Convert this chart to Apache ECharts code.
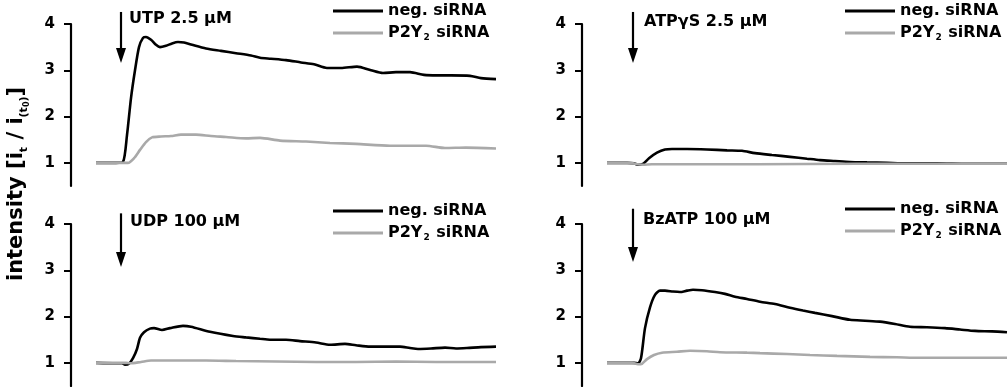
<!DOCTYPE html>
<html>
<head>
<meta charset="utf-8">
<script src="https://cdn.jsdelivr.net/npm/echarts@6/dist/echarts.min.js"></script>
<style>
  html, body { margin: 0; padding: 0; background: #fff; }
  #chart { width: 1008px; height: 387px; }
</style>
</head>
<body>
<div id="chart"></div>
<script>
// Calcium response traces, [time (s), normalised intensity]
const utpNeg = [[0,1.0],[10,1.0],[20,1.0],[27,1.02],[31,1.6],[35,2.4],[39,3.0],[43,3.5],[47,3.7],[50,3.72],[55,3.66],[60,3.55],[64,3.5],[70,3.53],[76,3.58],[82,3.61],[88,3.6],[96,3.55],[110,3.47],[125,3.42],[140,3.37],[155,3.32],[164,3.27],[175,3.25],[190,3.22],[205,3.17],[218,3.13],[231,3.05],[245,3.05],[261,3.08],[275,3.0],[287,2.94],[300,2.96],[314,2.96],[328,2.9],[341,2.89],[355,2.89],[374,2.88],[385,2.83],[400,2.81]];
const utpP2y2 = [[0,1.0],[20,1.0],[32,1.0],[38,1.1],[44,1.28],[50,1.45],[56,1.55],[65,1.57],[75,1.58],[85,1.61],[100,1.61],[115,1.58],[130,1.56],[150,1.53],[164,1.54],[184,1.48],[210,1.46],[234,1.43],[260,1.41],[294,1.37],[330,1.37],[349,1.32],[370,1.33],[400,1.31]];

const atpNeg = [[0,1.0],[20,1.0],[27,0.99],[31,0.96],[36,0.98],[42,1.1],[50,1.22],[58,1.29],[65,1.3],[80,1.3],[100,1.29],[120,1.27],[135,1.26],[148,1.21],[165,1.17],[183,1.13],[200,1.09],[213,1.06],[228,1.04],[243,1.02],[260,1.01],[280,1.0],[300,0.99],[330,0.99],[360,0.98],[400,0.98]];
const atpP2y2 = [[0,1.0],[20,1.0],[26,0.99],[30,0.97],[36,0.96],[45,0.97],[80,0.97],[150,0.97],[250,0.98],[330,0.98],[400,0.98]];

const udpNeg = [[0,1.0],[20,0.99],[26,0.99],[29,0.96],[33,0.98],[37,1.1],[41,1.3],[44,1.54],[48,1.66],[54,1.74],[58,1.75],[66,1.71],[74,1.75],[87,1.8],[95,1.78],[114,1.67],[137,1.58],[150,1.55],[164,1.52],[174,1.5],[190,1.5],[204,1.47],[220,1.44],[234,1.39],[249,1.41],[260,1.38],[274,1.35],[290,1.35],[304,1.35],[314,1.32],[322,1.3],[335,1.31],[349,1.33],[360,1.31],[371,1.32],[385,1.34],[400,1.35]];
const udpP2y2 = [[0,1.0],[30,1.0],[34,0.99],[45,1.02],[55,1.05],[80,1.05],[110,1.05],[140,1.04],[180,1.03],[220,1.02],[260,1.02],[300,1.03],[340,1.02],[400,1.02]];

const bzatpNeg = [[0,1.0],[20,1.0],[27,1.0],[31,0.99],[34,1.1],[38,1.75],[43,2.2],[48,2.47],[53,2.56],[58,2.56],[66,2.54],[73,2.53],[80,2.56],[86,2.58],[95,2.57],[108,2.53],[118,2.49],[128,2.43],[140,2.38],[153,2.32],[168,2.27],[183,2.19],[196,2.13],[208,2.08],[225,2.01],[243,1.93],[258,1.91],[273,1.89],[288,1.84],[303,1.78],[320,1.77],[338,1.75],[353,1.72],[368,1.69],[385,1.68],[400,1.66]];
const bzatpP2y2 = [[0,1.0],[25,1.0],[31,0.97],[35,0.98],[40,1.08],[47,1.17],[55,1.22],[70,1.24],[83,1.26],[100,1.25],[113,1.23],[140,1.22],[153,1.21],[180,1.19],[203,1.17],[230,1.15],[263,1.13],[290,1.12],[313,1.11],[350,1.11],[400,1.11]];

// Agonist labels and addition time / arrow extent (intensity units)
const agonists = ['UTP 2.5 μM', 'ATPγS 2.5 μM', 'UDP 100 μM', 'BzATP 100 μM'];
const additionTime = [25, 26, 25, 26];
const arrowTop = [4.26, 4.26, 4.23, 4.33];
const arrowTip = [3.16, 3.16, 3.07, 3.18];

const yTicks = [1, 2, 3, 4];
const seriesNames = ['neg. siRNA', 'P2Y2 siRNA'];
const traces = [[utpNeg, utpP2y2], [atpNeg, atpP2y2], [udpNeg, udpP2y2], [bzatpNeg, bzatpP2y2]];

const FONT = 'DejaVu Sans';
const panels = [
  { left: 96,  top: 24,  legendLeft: 328, legendTop: -2,  labelDx: 8,  labelDy: 7 },
  { left: 607, top: 24,  legendLeft: 840, legendTop: -2,  labelDx: 11, labelDy: 10 },
  { left: 96,  top: 224, legendLeft: 328, legendTop: 198, labelDx: 9,  labelDy: 8 },
  { left: 607, top: 224, legendLeft: 840, legendTop: 196, labelDx: 10, labelDy: 11 }
];
const colors = ['#000000', '#a9a9a9'];

const chart = echarts.init(document.getElementById('chart'), null, { renderer: 'canvas' });

const option = {
  animation: false,
  backgroundColor: '#fff',
  grid: panels.map(p => ({ left: p.left, top: p.top, width: 400, height: 162 })),
  xAxis: panels.map((p, i) => ({ type: 'value', gridIndex: i, min: 0, max: 400, show: false })),
  yAxis: panels.map((p, i) => ({
    type: 'value', gridIndex: i, min: 0.5, max: 4, offset: 25,
    axisLine: { show: true, onZero: false, lineStyle: { color: '#000', width: 2.2 } },
    axisTick: { show: true, length: 7, lineStyle: { color: '#000', width: 2 }, customValues: yTicks },
    axisLabel: { customValues: yTicks, margin: 16, color: '#000', fontFamily: FONT, fontWeight: 'bold', fontSize: 15 },
    splitLine: { show: false }
  })),
  legend: panels.map(p => ({
    orient: 'vertical', left: p.legendLeft, top: p.legendTop,
    icon: 'rect', itemWidth: 50, itemHeight: 3, itemGap: 5,
    selectedMode: false,
    data: seriesNames,
    formatter: name => name === 'P2Y2 siRNA' ? '{n|P2Y}{sub|2}{n| siRNA}' : '{n|' + name + '}',
    textStyle: {
      rich: {
        n: { fontFamily: FONT, fontWeight: 'bold', fontSize: 16, color: '#000', lineHeight: 16 },
        sub: { fontFamily: FONT, fontWeight: 'bold', fontSize: 9, color: '#000', lineHeight: 16, padding: [9, 1, 0, 1] }
      }
    }
  })),
  series: []
};

traces.forEach((pair, i) => {
  pair.forEach((data, k) => {
    option.series.push({
      name: seriesNames[k], type: 'line', xAxisIndex: i, yAxisIndex: i,
      data: data, smooth: 0.25, showSymbol: false, z: 2 + k,
      lineStyle: { color: colors[k], width: 2.6 }, itemStyle: { color: colors[k] }
    });
  });
});

chart.setOption(option);

// Yaxis title and agonist addition arrows
const graphics = [{
  type: 'text', x: 17, y: 184, rotation: Math.PI / 2,
  style: {
    text: '{m|intensity [i}{s|t}{m| / i}{s|(t}{ss|0}{s|)}{m|]}',
    align: 'center', verticalAlign: 'middle',
    rich: {
      m: { fontFamily: FONT, fontWeight: 'bold', fontSize: 21, fill: '#000', lineHeight: 24 },
      s: { fontFamily: FONT, fontWeight: 'bold', fontSize: 11, fill: '#000', lineHeight: 24, padding: [14, 0, 0, 0] },
      ss: { fontFamily: FONT, fontWeight: 'bold', fontSize: 8, fill: '#000', lineHeight: 24, padding: [19, 0, 0, 0] }
    }
  }
}];

panels.forEach((p, i) => {
  const top = chart.convertToPixel({ gridIndex: i }, [additionTime[i], arrowTop[i]]);
  const tip = chart.convertToPixel({ gridIndex: i }, [additionTime[i], arrowTip[i]]);
  const x = top[0];
  graphics.push({
    type: 'line', shape: { x1: x, y1: top[1], x2: x, y2: tip[1] - 12 },
    style: { stroke: '#000', lineWidth: 2.2 }
  });
  graphics.push({
    type: 'polygon', shape: { points: [[x - 5, tip[1] - 15], [x + 5, tip[1] - 15], [x, tip[1]]] },
    style: { fill: '#000' }
  });
  graphics.push({
    type: 'text', x: x + p.labelDx, y: top[1] + p.labelDy,
    style: { text: agonists[i], fontFamily: FONT, fontWeight: 'bold', fontSize: 16, fill: '#000', align: 'left', verticalAlign: 'middle' }
  });
});

chart.setOption({ graphic: graphics });
</script>
</body>
</html>
